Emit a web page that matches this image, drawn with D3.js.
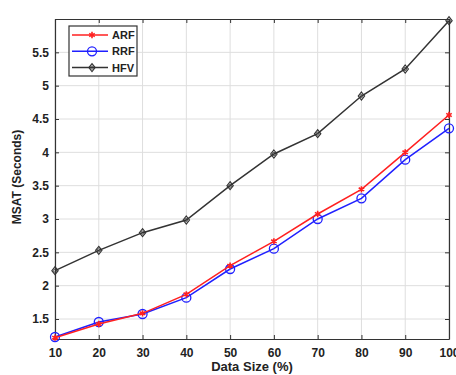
<!DOCTYPE html>
<html>
<head>
<meta charset="utf-8">
<script src="https://cdn.jsdelivr.net/npm/d3@7"></script>
<style>
  body { margin: 0; background: #fff; }
  svg { display: block; font-family: "Liberation Sans", Arial, sans-serif; }
</style>
</head>
<body>
<div id="chart"></div>
<script>
// data
var dataSize = [10, 20, 30, 40, 50, 60, 70, 80, 90, 100];
var arf = [1.22, 1.425, 1.585, 1.87, 2.3, 2.665, 3.075, 3.445, 4.0, 4.56];
var rrf = [1.23, 1.455, 1.575, 1.82, 2.25, 2.555, 3.0, 3.31, 3.89, 4.36];
var hfv = [2.225, 2.53, 2.795, 2.985, 3.5, 3.975, 4.28, 4.845, 5.25, 5.975];
var yTicks = [1.5, 2, 2.5, 3, 3.5, 4, 4.5, 5, 5.5];
var seriesNames = ["ARF", "RRF", "HFV"];

var W = 456, H = 375;
var margin = {left: 55, right: 7, top: 19, bottom: 36};

var svg = d3.select("#chart").append("svg")
  .attr("width", W).attr("height", H);

var x = d3.scaleLinear().domain([10, 100]).range([margin.left, W - margin.right]);
var y = d3.scaleLinear().domain([1.2, 6]).range([H - margin.bottom, margin.top]);

// grid
svg.append("g").selectAll("line").data(dataSize).enter().append("line")
  .attr("x1", d => x(d)).attr("x2", d => x(d))
  .attr("y1", y(1.2)).attr("y2", y(6))
  .attr("stroke", "#dedede").attr("stroke-width", 1);
svg.append("g").selectAll("line").data(yTicks).enter().append("line")
  .attr("x1", x(10)).attr("x2", x(100))
  .attr("y1", d => y(d)).attr("y2", d => y(d))
  .attr("stroke", "#dedede").attr("stroke-width", 1);

// axes (ticks inward, box on all sides)
var axisStyle = function(g) {
  g.selectAll(".domain").attr("stroke", "#333").attr("stroke-width", 1.2);
  g.selectAll(".tick line").attr("stroke", "#333");
  g.selectAll("text").attr("font-size", 12).attr("font-weight", "bold").attr("fill", "#222");
};

svg.append("g")
  .attr("transform", "translate(0," + y(1.2) + ")")
  .call(d3.axisBottom(x).tickValues(dataSize).tickSize(-4).tickPadding(9).tickSizeOuter(0))
  .call(axisStyle);
svg.append("g")
  .attr("transform", "translate(0," + y(6) + ")")
  .call(d3.axisTop(x).tickValues(dataSize).tickSize(-4).tickFormat("").tickSizeOuter(0))
  .call(axisStyle);
svg.append("g")
  .attr("transform", "translate(" + x(10) + ",0)")
  .call(d3.axisLeft(y).tickValues(yTicks).tickSize(-4).tickPadding(6).tickSizeOuter(0)
    .tickFormat(d3.format("")))
  .call(axisStyle);
svg.append("g")
  .attr("transform", "translate(" + x(100) + ",0)")
  .call(d3.axisRight(y).tickValues(yTicks).tickSize(-4).tickFormat("").tickSizeOuter(0))
  .call(axisStyle);

// axis titles
svg.append("text")
  .attr("x", 252).attr("y", 371)
  .attr("text-anchor", "middle")
  .attr("font-size", 13).attr("font-weight", "bold").attr("fill", "#222")
  .text("Data Size (%)");
svg.append("text")
  .attr("transform", "translate(21," + 177 + ") rotate(-90)")
  .attr("text-anchor", "middle")
  .attr("font-size", 12).attr("font-weight", "bold").attr("fill", "#222")
  .text("MSAT (Seconds)");

var series = [
  {name: seriesNames[0], values: arf, color: "#ff2020", marker: "star"},
  {name: seriesNames[1], values: rrf, color: "#2020ff", marker: "circle"},
  {name: seriesNames[2], values: hfv, color: "#333333", marker: "diamond"}
];

function drawMarker(g, type, color) {
  if (type === "circle") {
    g.append("circle").attr("r", 4.5).attr("fill", "none")
      .attr("stroke", color).attr("stroke-width", 1.3);
  } else if (type === "diamond") {
    g.append("path").attr("d", "M0,-4L3.2,0L0,4L-3.2,0Z")
      .attr("fill", "none").attr("stroke", color).attr("stroke-width", 1.1);
    g.append("circle").attr("r", 1.6).attr("fill", "none")
      .attr("stroke", color).attr("stroke-width", 0.8);
  } else {
    g.append("path").attr("d", d3.symbol(d3.symbolAsterisk, 28)())
      .attr("fill", "none").attr("stroke", color).attr("stroke-width", 1.6);
  }
}

var line = d3.line()
  .x((d, i) => x(dataSize[i]))
  .y(d => y(d));

// draw HFV first, then RRF, then ARF
[2, 1, 0].forEach(function(k) {
  var s = series[k];
  svg.append("path").datum(s.values)
    .attr("fill", "none").attr("stroke", s.color).attr("stroke-width", 1.5)
    .attr("d", line);
  s.values.forEach(function(v, i) {
    var g = svg.append("g").attr("transform", "translate(" + x(dataSize[i]) + "," + y(v) + ")");
    drawMarker(g, s.marker, s.color);
  });
});

// legend
var lg = svg.append("g").attr("transform", "translate(69,26)");
lg.append("rect").attr("width", 68).attr("height", 50)
  .attr("fill", "#fff").attr("stroke", "#333").attr("stroke-width", 1.2);
series.forEach(function(s, i) {
  var yy = 9 + i * 16.3;
  lg.append("line").attr("x1", 3).attr("x2", 39).attr("y1", yy).attr("y2", yy)
    .attr("stroke", s.color).attr("stroke-width", 1.5);
  drawMarker(lg.append("g").attr("transform", "translate(23," + yy + ")"), s.marker, s.color);
  lg.append("text").attr("x", 43).attr("y", yy + 4)
    .attr("font-size", 11).attr("font-weight", "bold").attr("fill", "#222")
    .text(s.name);
});
</script>
</body>
</html>
